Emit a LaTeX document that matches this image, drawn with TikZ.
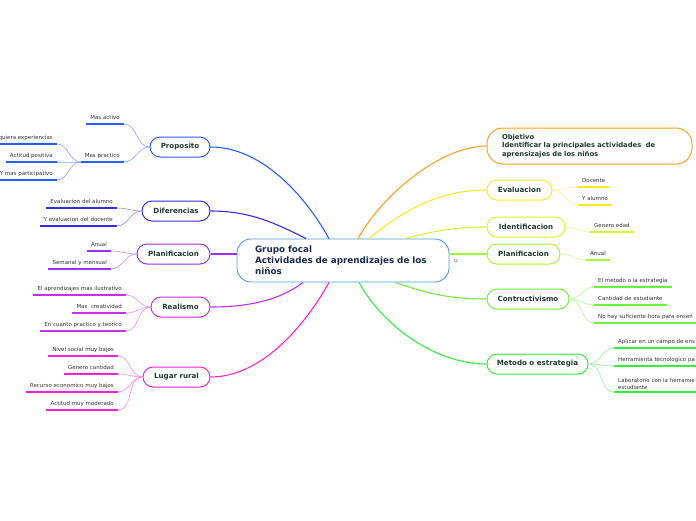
\documentclass[tikz,border=0pt]{standalone}
\usepackage{fontspec}
\setmainfont{DejaVu Sans}
\definecolor{rootline}{HTML}{4A9FD8}
\definecolor{roottext}{HTML}{1C2B4B}
\definecolor{nodetext}{HTML}{1F3B2F}
\definecolor{leaftext}{HTML}{333333}
\definecolor{cProp}{HTML}{2B5CFF}
\definecolor{cDif}{HTML}{3A2AF0}
\definecolor{cPlanL}{HTML}{9A30F5}
\definecolor{cReal}{HTML}{C530F0}
\definecolor{cLug}{HTML}{F522D5}
\definecolor{cObj}{HTML}{FFA020}
\definecolor{cEval}{HTML}{FFE820}
\definecolor{cIden}{HTML}{D8F530}
\definecolor{cPlanR}{HTML}{A5F535}
\definecolor{cCons}{HTML}{70F040}
\definecolor{cMet}{HTML}{30F040}
\begin{document}
\begin{tikzpicture}[
    x=1pt, y=-1pt,
    topic/.style={draw=#1, line width=1pt, rounded corners=10pt, fill=white,
        minimum height=20pt, inner sep=2pt, text=nodetext,
        font=\fontsize{7.1}{8}\selectfont\bfseries},
    twig/.style={inner xsep=4pt, inner ysep=3.3pt, text height=4pt, text depth=1.2pt,
        text=leaftext, font=\fontsize{5.5}{7}\selectfont},
    twigL/.style={twig, anchor=south east},
    twigR/.style={twig, anchor=south west},
    link/.style={draw=#1, line width=1.1pt},
    thin link/.style={draw=#1!55, line width=0.6pt},
    uline/.style={draw=#1, line width=1.4pt}
]
\useasboundingbox (0,0) rectangle (696,520);

% central topic
\node[draw=rootline, line width=0.9pt, rounded corners=14pt, fill=white,
      minimum width=212pt, minimum height=43pt, text width=176pt, align=left,
      text=roottext, font=\fontsize{8.8}{11}\selectfont\bfseries]
      (root) at (343,260.5) {Grupo focal\\Actividades de aprendizajes de los\\niños};
\node[text=gray!70!black, font=\fontsize{6}{6}\selectfont] (fold) at (456,261) {u};

% main topics, left
\node[topic=cProp, minimum width=60pt] (prop) at (180,147) {Proposito};
\node[topic=cDif, minimum width=68pt] (dif) at (176,211) {Diferencias};
\node[topic=cPlanL, minimum width=73pt] (planL) at (173.5,254) {Planificacion};
\node[topic=cReal, minimum width=59pt] (real) at (180.5,307) {Realismo};
\node[topic=cLug, minimum width=67pt] (lug) at (176.5,377) {Lugar rural};

% main topics, right
\node[topic=cObj, minimum width=205pt, minimum height=36pt, rounded corners=16pt,
      text width=175pt, align=left, font=\fontsize{6.8}{8.5}\selectfont\bfseries]
      (obj) at (589.5,146) {Objetivo\\Identificar la principales actividades~ de\\aprensizajes de los niños};
\node[topic=cEval, minimum width=65pt] (eval) at (519.5,190) {Evaluacion};
\node[topic=cIden, minimum width=78pt] (iden) at (526,227) {Identificacion};
\node[topic=cPlanR, minimum width=73pt] (planR) at (523.5,254) {Planificacion};
\node[topic=cCons, minimum width=82pt] (cons) at (528,299) {Contructivismo};
\node[topic=cMet, minimum width=101pt] (met) at (537.5,364) {Metodo o estrategia};

% links to the central topic
\draw[link=cProp] (prop.east) .. controls +(50,0) and +(-25,-45) .. ([xshift=-14pt]root.north);
\draw[link=cDif] (dif.east) .. controls +(40,0) and +(-30,-15) .. ([xshift=-37pt]root.north);
\draw[link=cPlanL] (planL.east) -- (planL.east -| root.west);
\draw[link=cReal] (real.east) .. controls +(45,0) and +(-20,15) .. ([xshift=-40pt]root.south);
\draw[link=cLug] (lug.east) .. controls +(50,0) and +(-25,45) .. ([xshift=-14pt]root.south);
\draw[link=cObj] (obj.west) .. controls +(-45,0) and +(25,-45) .. ([xshift=15pt]root.north);
\draw[link=cEval] (eval.west) .. controls +(-50,0) and +(30,-25) .. ([xshift=26pt]root.north);
\draw[link=cIden] (iden.west) .. controls +(-30,0) and +(30,-8) .. ([xshift=62pt]root.north);
\draw[link=cPlanR] (planR.west) -- (planR.west -| root.east);
\draw[link=cCons] (cons.west) .. controls +(-40,0) and +(30,10) .. ([xshift=52pt]root.south);
\draw[link=cMet] (met.west) .. controls +(-50,0) and +(25,45) .. ([xshift=16pt]root.south);

% Proposito
\node[twigL] (pa) at (124,124) {Mas activo};
\node[twigL] (pp) at (124,162) {Mas practico};
\node[twigL] (pp1) at (57,144) {quiera experiencias};
\node[twigL] (pp2) at (57,162) {Actitud positiva};
\node[twigL] (pp3) at (57,180) {Y mas participativo};
\foreach \n in {pa,pp,pp1,pp2,pp3}
    \draw[uline=cProp] (\n.south west) -- (\n.south east);
\draw[thin link=cProp] (prop.west) to[out=180,in=0] (pa.south east);
\draw[thin link=cProp] (prop.west) to[out=180,in=0] (pp.south east);
\draw[thin link=cProp] (pp.south west) to[out=180,in=0] (pp1.south east);
\draw[thin link=cProp] (pp.south west) to[out=180,in=0] (pp2.south east);
\draw[thin link=cProp] (pp.south west) to[out=180,in=0] (pp3.south east);

% Diferencias
\node[twigL] (d1) at (117,208) {Evaluacion del alumno};
\node[twigL] (d2) at (117,226) {Y evaluacion del docente};
\foreach \n in {d1,d2} {
    \draw[uline=cDif] (\n.south west) -- (\n.south east);
    \draw[thin link=cDif] (dif.west) to[out=180,in=0] (\n.south east);
}

% Planificacion (left)
\node[twigL] (pl1) at (111,251) {Anual};
\node[twigL] (pl2) at (111,269) {Semanal y mensual};
\foreach \n in {pl1,pl2} {
    \draw[uline=cPlanL] (\n.south west) -- (\n.south east);
    \draw[thin link=cPlanL] (planL.west) to[out=180,in=0] (\n.south east);
}

% Realismo
\node[twigL] (r1) at (126,295) {El aprendizajes mas ilustrativo};
\node[twigL] (r2) at (126,313) {Mas~ creatividad};
\node[twigL] (r3) at (126,331) {En cuanto practico y teorico};
\foreach \n in {r1,r2,r3} {
    \draw[uline=cReal] (\n.south west) -- (\n.south east);
    \draw[thin link=cReal] (real.west) to[out=180,in=0] (\n.south east);
}

% Lugar rural
\node[twigL] (l1) at (118,356) {Nivel social muy bajos};
\node[twigL] (l2) at (118,374) {Genero cantidad};
\node[twigL] (l3) at (118,392) {Recurso economico muy bajos};
\node[twigL] (l4) at (118,410) {Actitud muy moderado};
\foreach \n in {l1,l2,l3,l4} {
    \draw[uline=cLug] (\n.south west) -- (\n.south east);
    \draw[thin link=cLug] (lug.west) to[out=180,in=0] (\n.south east);
}

% Evaluacion
\node[twigR] (e1) at (578,187) {Docente};
\node[twigR] (e2) at (578,205) {Y alumno};
\foreach \n in {e1,e2} {
    \draw[uline=cEval] (\n.south west) -- (\n.south east);
    \draw[thin link=cEval] (eval.east) to[out=0,in=180] (\n.south west);
}

% Identificacion
\node[twigR] (i1) at (590,232) {Genero edad};
\draw[uline=cIden] (i1.south west) -- (i1.south east);
\draw[thin link=cIden] (iden.east) to[out=0,in=180] (i1.south west);

% Planificacion (right)
\node[twigR] (p1) at (586,260) {Anual};
\draw[uline=cPlanR] (p1.south west) -- (p1.south east);
\draw[thin link=cPlanR] (planR.east) to[out=0,in=180] (p1.south west);

% Contructivismo
\node[twigR] (c1) at (594,287) {El metodo o la estrategia};
\node[twigR] (c2) at (594,305) {Cantidad de estudiante};
\node[twigR] (c3) at (594,323) {No hay suficiente hora para enseñ};
\foreach \n in {c1,c2,c3} {
    \draw[uline=cCons] (\n.south west) -- (\n.south east);
    \draw[thin link=cCons] (cons.east) to[out=0,in=180] (\n.south west);
}

% Metodo o estrategia
\node[twigR] (m1) at (614,348) {Aplicar en un campo de ens};
\node[twigR] (m2) at (614,366) {Herramienta tecnologico pa};
\node[twigR, text height=, text depth=, align=left, inner ysep=2.5pt] (m3) at (614,392) {Laboratorio con la herramie\\estudiante};
\foreach \n in {m1,m2,m3} {
    \draw[uline=cMet] (\n.south west) -- (\n.south east);
    \draw[thin link=cMet] (met.east) to[out=0,in=180] (\n.south west);
}
\end{tikzpicture}
\end{document}
